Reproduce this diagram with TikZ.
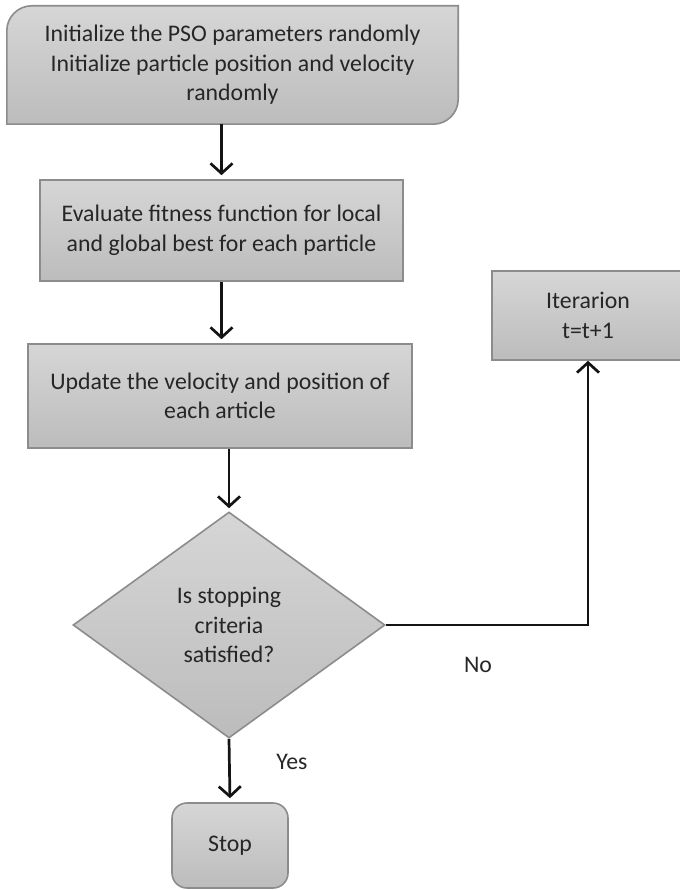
\documentclass[tikz,border=0pt]{standalone}
\usepackage{fontspec}
\setmainfont{Carlito}
\usetikzlibrary{shapes.geometric, arrows.meta}
\definecolor{boxtop}{RGB}{214,214,214}
\definecolor{boxbot}{RGB}{188,188,188}
\definecolor{boxline}{RGB}{140,140,140}
\definecolor{txt}{RGB}{38,38,38}
\definecolor{arr}{RGB}{20,20,20}
\pgfdeclarelayer{bg}
\pgfsetlayers{bg,main}
\begin{document}
\begin{tikzpicture}[x=1pt, y=1pt,
  font=\fontsize{23.8}{29.5}\selectfont, text=txt,
  boxfill/.style={draw=boxline, line width=1.6pt, top color=boxtop, bottom color=boxbot},
  txtnode/.style={align=center, inner sep=0pt},
  box/.style={boxfill, txtnode},
  conn/.style={draw=arr, line width=2.7pt, -{Straight Barb[length=10pt,width=22pt,line width=2.7pt]}},
  lbl/.style={inner sep=0pt}]
\useasboundingbox (0,0) rectangle (679,-890);
% first box with two rounded corners
\node[txtnode, minimum width=451pt, minimum height=118pt] (b1) at (232.5,-65)
  {Initialize the PSO parameters randomly\\Initialize particle position and velocity\\randomly};
\begin{pgfonlayer}{bg}
\path[boxfill] (b1.north east) -- ([yshift=25pt]b1.south east)
  arc[start angle=0, end angle=-90, radius=25pt] -- (b1.south west)
  -- ([yshift=-25pt]b1.north west) arc[start angle=180, end angle=90, radius=25pt] -- cycle;
\end{pgfonlayer}
\node[box, minimum width=363pt, minimum height=101pt] (b2) at (221.5,-230.5)
  {Evaluate fitness function for local\\and global best for each particle};
\node[box, minimum width=384pt, minimum height=104pt] (b3) at (220,-396)
  {Update the velocity and position of\\each article};
\node[box, diamond, shape aspect=1.38, minimum width=312pt, minimum height=226pt] (d) at (229,-625)
  {Is stopping\\criteria\\satisfied?};
\node[box, rounded corners=15pt, minimum width=116pt, minimum height=85pt] (stop) at (230,-845.5) {Stop};
\node[box, minimum width=192pt, minimum height=89pt] (iter) at (588,-315.5) {Iterarion\\t=t+1};
\node[lbl] (yes) at (292,-762) {Yes};
\node[lbl] (no) at (478,-665) {No};
% connectors
\draw[conn, shorten >=4pt] (b1.south -| b2.north) -- (b2.north);
\draw[conn, shorten >=4pt] (b2.south) -- (b2.south |- b3.north);
\draw[conn, shorten >=3pt] (b3.south -| d.north) -- (d.north);
\draw[conn, shorten >=4pt] (d.south) -- (stop.north);
\draw[conn] (d.east) -| (iter.south);
\end{tikzpicture}
\end{document}
